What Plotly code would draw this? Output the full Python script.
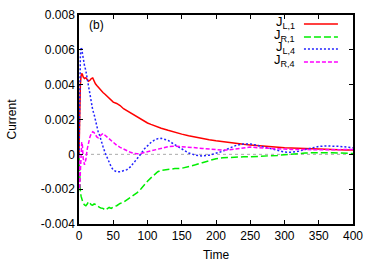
import plotly.graph_objects as go

time = [0, 1, 2, 3, 4, 5, 6, 8, 10, 12, 14, 16, 18, 20, 22, 24, 26, 28, 30, 32, 35, 38, 41, 44, 47, 50,
        55, 60, 65, 70, 75, 80, 85, 90, 95, 100, 105, 110, 115, 120, 130, 140, 150, 160, 170, 180, 190,
        200, 210, 220, 230, 240, 250, 260, 270, 280, 290, 300, 310, 320, 330, 340, 350, 360, 370, 380,
        390, 400]

# values in units of 1e-3
jl1_milli = [0, 2.5, 4.0, 4.5, 4.65, 4.6, 4.45, 4.35, 4.4, 4.3, 4.2, 4.25, 4.35, 4.38, 4.2, 4.05, 3.95,
             3.85, 3.78, 3.7, 3.55, 3.45, 3.35, 3.22, 3.1, 3.0, 2.92, 2.8, 2.62, 2.5, 2.38, 2.25, 2.12,
             2.0, 1.9, 1.8, 1.72, 1.64, 1.56, 1.5, 1.38, 1.26, 1.16, 1.07, 0.98, 0.9, 0.84, 0.78, 0.72,
             0.67, 0.62, 0.58, 0.54, 0.5, 0.47, 0.44, 0.41, 0.38, 0.36, 0.34, 0.32, 0.31, 0.29, 0.28,
             0.27, 0.26, 0.25, 0.25]
jr1_milli = [0, -1.5, -2.1, -2.4, -2.6, -2.7, -2.8, -2.9, -2.95, -2.85, -2.72, -2.8, -2.9, -2.92, -2.85,
             -2.88, -2.95, -3.0, -3.05, -3.08, -3.1, -3.2, -3.1, -3.05, -3.1, -3.02, -2.95, -2.82, -2.75,
             -2.62, -2.5, -2.38, -2.2, -2.0, -1.75, -1.55, -1.35, -1.15, -1.0, -0.92, -0.86, -0.82, -0.8,
             -0.72, -0.6, -0.48, -0.35, -0.25, -0.2, -0.17, -0.15, -0.14, -0.14, -0.13, -0.12, -0.1,
             -0.06, -0.02, 0.02, 0.05, 0.07, 0.09, 0.1, 0.1, 0.09, 0.08, 0.06, 0.05]
jl4_milli = [0, 3.5, 5.6, 6.15, 6.05, 5.8, 5.5, 5.1, 4.8, 4.3, 3.9, 3.3, 2.9, 2.55, 2.3, 1.95, 1.6, 1.3,
             1.1, 0.8, 0.45, 0.1, -0.2, -0.5, -0.72, -0.9, -1.0, -1.0, -0.95, -0.88, -0.72, -0.5, -0.25,
             0.0, 0.3, 0.5, 0.68, 0.82, 0.9, 0.92, 0.8, 0.55, 0.3, 0.08, -0.05, -0.1, -0.05, 0.05, 0.18,
             0.36, 0.52, 0.6, 0.6, 0.52, 0.42, 0.3, 0.2, 0.13, 0.12, 0.17, 0.28, 0.38, 0.45, 0.48, 0.48,
             0.46, 0.42, 0.38]
jr4_milli = [0, -2.0, -1.0, 0.3, 0.7, 0.5, -0.2, -0.6, -0.3, 0.3, 0.7, 1.0, 1.2, 1.3, 1.25, 1.1, 1.0,
             0.95, 1.0, 1.1, 1.2, 1.1, 0.95, 0.85, 0.75, 0.65, 0.52, 0.4, 0.3, 0.2, 0.12, 0.06, 0.03,
             0.05, 0.1, 0.15, 0.2, 0.26, 0.32, 0.38, 0.44, 0.47, 0.45, 0.42, 0.38, 0.34, 0.3, 0.26, 0.24,
             0.26, 0.32, 0.4, 0.42, 0.38, 0.35, 0.33, 0.32, 0.3, 0.28, 0.27, 0.26, 0.26, 0.25, 0.25,
             0.26, 0.27, 0.28, 0.28]

series_names = ["J<sub>L,1</sub>", "J<sub>R,1</sub>", "J<sub>L,4</sub>", "J<sub>R,4</sub>"]
series_vals = [jl1_milli, jr1_milli, jl4_milli, jr4_milli]
series_colors = ["#ff0000", "#00ee00", "#2222ff", "#ff00ff"]
series_dash = ["solid", "7px,3px", "2px,2px", "4px,2px"]

x_ticks = [0, 50, 100, 150, 200, 250, 300, 350, 400]
y_tickvals = [0.008, 0.006, 0.004, 0.002, 0, -0.002, -0.004]
y_ticktext = ["0.008", "0.006", "0.004", "0.002", "0", "-0.002", "-0.004"]

fig = go.Figure()
for name, vals, col, dash in zip(series_names, series_vals, series_colors, series_dash):
    fig.add_trace(go.Scatter(x=time, y=[v * 1e-3 for v in vals], mode="lines", name=name,
                             line=dict(color=col, width=1.5, dash=dash), showlegend=False))

font = dict(family="Liberation Sans, Arial, sans-serif", size=12, color="black")

shapes = [dict(type="line", xref="paper", yref="y", x0=0, x1=1, y0=0, y1=0,
               line=dict(color="#aaaaaa", width=1, dash="dot"), layer="below")]
annotations = [dict(text="(b)", xref="paper", yref="paper", x=0.065, y=0.95, showarrow=False,
                    font=font, xanchor="center", yanchor="middle")]
legend_y = [0.957, 0.895, 0.837, 0.775]
for name, col, dash, ly in zip(series_names, series_colors, series_dash, legend_y):
    annotations.append(dict(text=name, xref="paper", yref="paper", x=0.796, y=ly + 0.008,
                            showarrow=False, font=dict(family=font["family"], size=13, color="black"),
                            xanchor="right", yanchor="middle"))
    shapes.append(dict(type="line", xref="paper", yref="paper", x0=0.821, x1=0.945, y0=ly, y1=ly,
                       line=dict(color=col, width=1.5, dash=dash)))

fig.update_layout(
    width=374, height=262,
    margin=dict(l=79, r=21, t=15, b=38),
    paper_bgcolor="white", plot_bgcolor="white",
    font=font,
    shapes=shapes, annotations=annotations,
    xaxis=dict(range=[0, 400], tickvals=x_ticks, ticks="inside", ticklen=4, tickwidth=1,
               tickcolor="black", showline=True, linecolor="black", linewidth=1.5, mirror="ticks",
               showgrid=False, zeroline=False, automargin=False,
               title=dict(text="Time", font=font, standoff=10)),
    yaxis=dict(range=[-0.004, 0.008], tickvals=y_tickvals, ticktext=y_ticktext, ticks="inside",
               ticklen=4, tickwidth=1, tickcolor="black", showline=True, linecolor="black",
               linewidth=1.5, mirror="ticks", showgrid=False, zeroline=False, automargin=False,
               title=dict(text="Current", font=font, standoff=22)),
)

fig.write_html("out.html", config={"displayModeBar": False},
               post_script="document.body.style.margin='0';document.body.style.overflow='hidden';")
